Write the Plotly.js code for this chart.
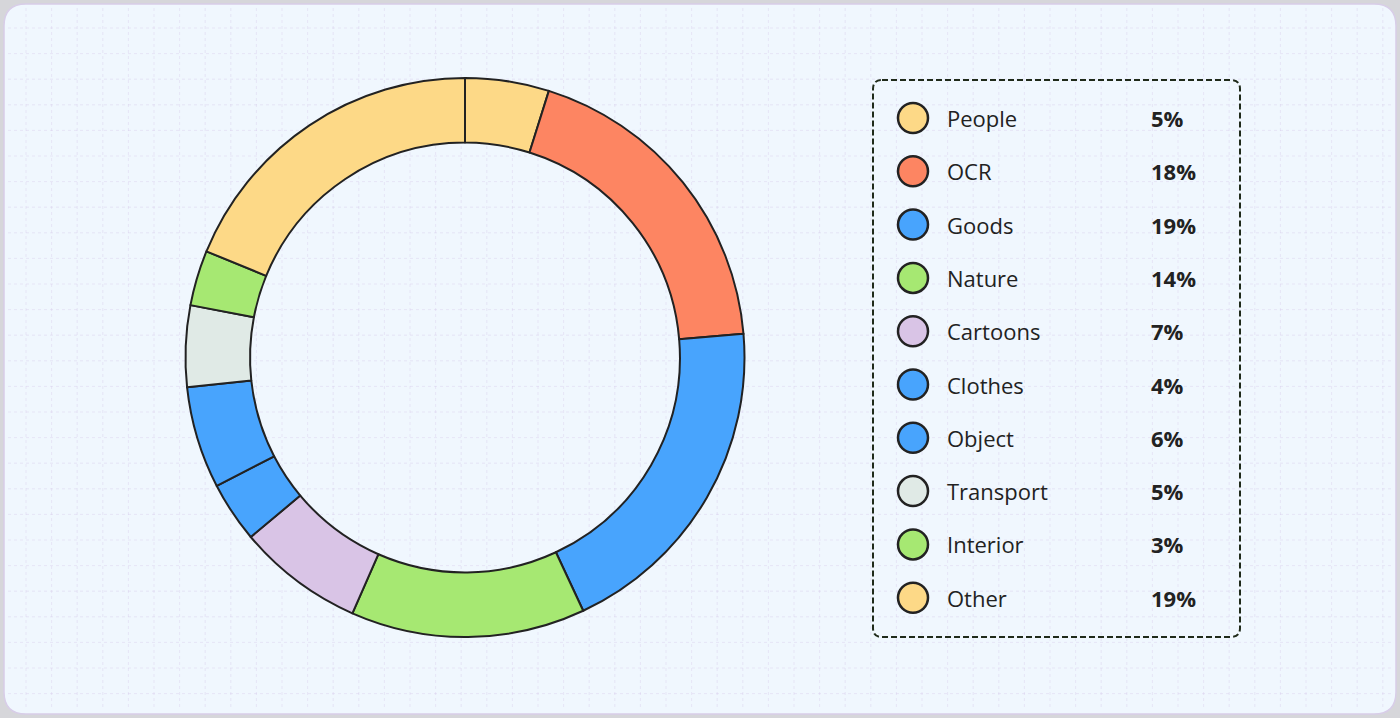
<!DOCTYPE html>
<html>
<head>
<meta charset="utf-8">
<script src="https://cdn.plot.ly/plotly-3.0.1.min.js"></script>
<style>
html,body{margin:0;padding:0;background:#d6d6da;}
#chart{width:1400px;height:718px;}
</style>
</head>
<body>
<div id="chart"></div>
<script>
// Data
const categories = ["People","OCR","Goods","Nature","Cartoons","Clothes","Object","Transport","Interior","Other"];
// slice sizes as read from the drawn ring (percent)
const shares = [4.85,18.8,19.4,13.55,7.3,3.5,5.9,4.7,3.2,18.8];
// percent labels printed in the legend
const percentLabels = ["5%","18%","19%","14%","7%","4%","6%","5%","3%","19%"];
const sliceColors = ["#fdd987","#fd8562","#48a4fd","#a6e872","#d9c4e6","#48a4fd","#48a4fd","#e0eae6","#a6e872","#fdd987"];

const W = 1400, H = 718;

// pie placement (pixels)
const cx = 465, cy = 357.5, R = 279.5;

function roundRectPath(x0,y0,x1,y1,r){
  return `M ${x0+r},${y0} L ${x1-r},${y0} Q ${x1},${y0} ${x1},${y0+r} L ${x1},${y1-r} Q ${x1},${y1} ${x1-r},${y1} L ${x0+r},${y1} Q ${x0},${y1} ${x0},${y1-r} L ${x0},${y0+r} Q ${x0},${y0} ${x0+r},${y0} Z`;
}
const xa = {range:[0,W], visible:false, fixedrange:true, domain:[0,1]};
const ya = {range:[H,0], visible:false, fixedrange:true, domain:[0,1]};

const shapes = [];
shapes.push({type:"path", xref:"x", yref:"y", layer:"below",
  path: roundRectPath(4,4,1396,714,22),
  line:{color:"#d8cde8", width:1.5}, fillcolor:"#f0f7fe"});
// faint grid
const step = 25.6;
for (let gx = 26; gx < 1392; gx += step) {
  shapes.push({type:"line", xref:"x", yref:"y", layer:"below", x0:gx, x1:gx, y0:8, y1:710,
    line:{color:"rgba(205,190,230,0.3)", width:1, dash:"dot"}});
}
for (let gy = 28; gy < 710; gy += step) {
  shapes.push({type:"line", xref:"x", yref:"y", layer:"below", x0:8, x1:1392, y0:gy, y1:gy,
    line:{color:"rgba(205,190,230,0.3)", width:1, dash:"dot"}});
}
// legend box
shapes.push({type:"path", xref:"x", yref:"y",
  path: roundRectPath(873,80,1240,637,9),
  line:{color:"#1f2a1a", width:2, dash:"6px,3px"}, fillcolor:"rgba(0,0,0,0)"});

const annotations = [];
const rowY0 = 118, rowStep = 53.3;
categories.forEach((c,i) => {
  const y = rowY0 + i*rowStep;
  shapes.push({type:"circle", xref:"x", yref:"y", x0:898, x1:928, y0:y-15, y1:y+15,
    fillcolor: sliceColors[i], line:{color:"#222222", width:2.5}});
  annotations.push({xref:"x", yref:"y", x:945, y:y, text:c, showarrow:false,
    xanchor:"left", yanchor:"middle", font:{family:"Open Sans", size:22, color:"#222222"}});
  annotations.push({xref:"x", yref:"y", x:1149, y:y, text:"<b>"+percentLabels[i]+"</b>", showarrow:false,
    xanchor:"left", yanchor:"middle", font:{family:"Open Sans", size:22, color:"#222222"}});
});

const traces = [
  {type:"scatter", x:[], y:[], xaxis:"x", yaxis:"y", showlegend:false, hoverinfo:"skip"},
  {
    type:"pie",
    labels: categories,
    values: shares,
    sort:false,
    direction:"clockwise",
    rotation:0,
    hole:0.769,
    textinfo:"none",
    hoverinfo:"label",
    showlegend:false,
    marker:{colors: sliceColors, line:{color:"#222222", width:2}},
    domain:{x:[(cx-R)/W, (cx+R)/W], y:[(H-cy-R)/H, (H-cy+R)/H]}
  }
];

const layout = {
  width:W, height:H,
  margin:{l:0,r:0,t:0,b:0},
  paper_bgcolor:"#d6d6da",
  plot_bgcolor:"rgba(0,0,0,0)",
  xaxis: xa, yaxis: ya,
  showlegend:false,
  shapes: shapes,
  annotations: annotations
};

Plotly.newPlot("chart", traces, layout, {staticPlot:true, displayModeBar:false});
</script>
</body>
</html>
